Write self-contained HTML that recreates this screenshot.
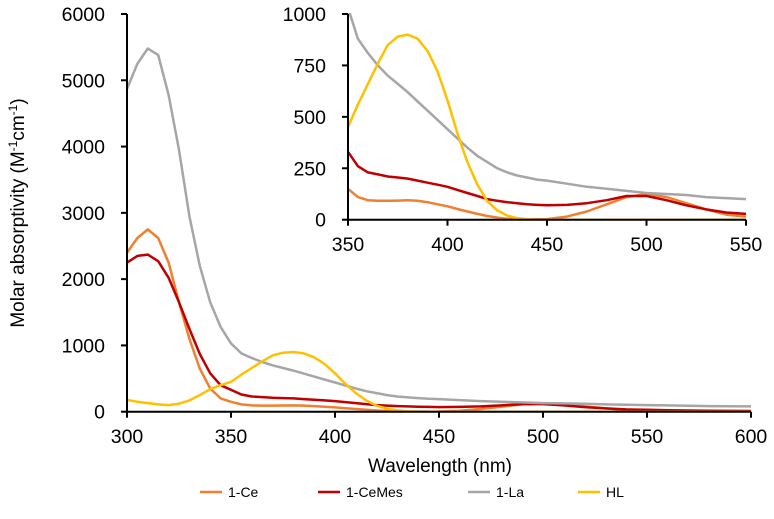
<!DOCTYPE html>
<html><head><meta charset="utf-8"><style>
body{margin:0;background:#fff}
svg{display:block;font-family:"Liberation Sans",Arial,sans-serif}
</style></head><body>
<svg id="c" width="774" height="519" viewBox="0 0 774 519" xmlns="http://www.w3.org/2000/svg"></svg>
<script>
const wavelengths=[300,305,310,315,320,325,330,335,340,345,350,355,360,365,370,375,380,385,390,395,400,405,410,415,420,425,430,435,440,445,450,460,470,480,490,500,510,520,530,540,550,560,570,580,590,600];
const seriesCe=[2400,2620,2750,2620,2250,1650,1100,650,350,200,150,110,95,92,92,93,95,92,85,75,65,52,40,28,18,10,5,2,2,2,3,15,40,75,110,125,110,80,50,25,15,8,5,4,3,3];
const seriesCeMes=[2250,2350,2370,2270,2020,1650,1250,870,580,400,330,260,230,220,210,205,200,190,180,170,160,145,130,115,100,92,85,80,75,72,70,72,80,95,115,115,95,70,50,35,28,22,18,15,12,10];
const seriesLa=[4870,5250,5480,5380,4780,3950,2950,2200,1650,1280,1030,880,810,750,700,660,620,575,530,485,440,395,350,310,280,250,230,215,205,195,190,175,160,150,140,130,125,120,110,105,100,95,90,85,82,80];
const seriesHL=[180,150,130,110,100,120,170,250,340,400,450,560,660,760,850,890,900,880,820,720,580,420,280,170,90,45,20,8,3,0,0,0,0,0,0,0,0,0,0,0,0,0,0,0,0,0];
const seriesNames=["1-Ce","1-CeMes","1-La","HL"];
const seriesColors=["#f08030","#c00000","#a6a6a6","#ffc000"];
const mainXTicks=[300,350,400,450,500,550,600];
const mainYTicks=[0,1000,2000,3000,4000,5000,6000];
const insetXTicks=[350,400,450,500,550];
const insetYTicks=[0,250,500,750,1000];

const NS="http://www.w3.org/2000/svg";
const svg=document.getElementById('c');
function mk(t,a,p){const e=document.createElementNS(NS,t);for(const k in a)e.setAttribute(k,a[k]);(p||svg).appendChild(e);return e;}
const all=[seriesCe,seriesCeMes,seriesLa,seriesHL];

function panel(name,x0,x1,y0,y1,xmin,xmax,ymin,ymax,xt,yt,fs){
  const g=mk('g',{});
  
  
  const sx=v=>x0+(v-xmin)/(xmax-xmin)*(x1-x0);
  const sy=v=>y0-(v-ymin)/(ymax-ymin)*(y0-y1);
  const cid=name+'-clip';
  const d=mk('defs',{},g);const cp=mk('clipPath',{id:cid},d);mk('rect',{x:x0,y:y1-1,width:x1-x0,height:y0-y1+1},cp);
  all.forEach((s,i)=>{
    let pts=[];
    wavelengths.forEach((w,j)=>{if(w>=xmin&&w<=xmax)pts.push(sx(w).toFixed(1)+','+sy(s[j]).toFixed(1));});
    const pl=mk('polyline',{points:pts.join(' '),fill:'none',stroke:seriesColors[i],'stroke-width':2.5,'stroke-linejoin':'round','clip-path':'url(#'+cid+')'},g);
    
    
  });
  mk('line',{x1:x0,y1:y0,x2:x1,y2:y0,stroke:'#000','stroke-width':2},g);
  mk('line',{x1:x0,y1:y0,x2:x0,y2:y1,stroke:'#000','stroke-width':2},g);
  xt.forEach(v=>{
    mk('line',{x1:sx(v),y1:y0,x2:sx(v),y2:y0+6,stroke:'#000','stroke-width':2},g);
    const t=mk('text',{x:sx(v),y:y0+fs+12,'font-size':fs,'text-anchor':'middle',fill:'#000'},g);t.textContent=v;
    
    
  });
  yt.forEach(v=>{
    mk('line',{x1:x0-6,y1:sy(v),x2:x0,y2:sy(v),stroke:'#000','stroke-width':2},g);
    const t=mk('text',{x:x0-22,y:sy(v)+fs*0.36,'font-size':fs,'text-anchor':'end',fill:'#000'},g);t.textContent=v;
    
    
  });
}
panel('main-plot',127,751,411.7,14,300,600,0,6000,mainXTicks,mainYTicks,19.5);
panel('inset-plot',348,746,219.7,14,350,550,0,1000,insetXTicks,insetYTicks,19.5);

const xl=mk('text',{x:440,y:472,'font-size':19,'text-anchor':'middle'});xl.textContent='Wavelength (nm)';


const yl=mk('text',{x:0,y:0,'font-size':19,'text-anchor':'middle',transform:'translate(24,213) rotate(-90)'});
yl.innerHTML='Molar absorptivity (M<tspan baseline-shift="super" font-size="12">-1</tspan>cm<tspan baseline-shift="super" font-size="12">-1</tspan>)';



const lx=[200,318,468,578];
seriesNames.forEach((n,i)=>{
  const g=mk('g',{});
  
  
  mk('line',{x1:lx[i],y1:492,x2:lx[i]+22,y2:492,stroke:seriesColors[i],'stroke-width':2.5},g);
  const t=mk('text',{x:lx[i]+28,y:497,'font-size':14},g);t.textContent=n;
});
</script>
</body></html>
